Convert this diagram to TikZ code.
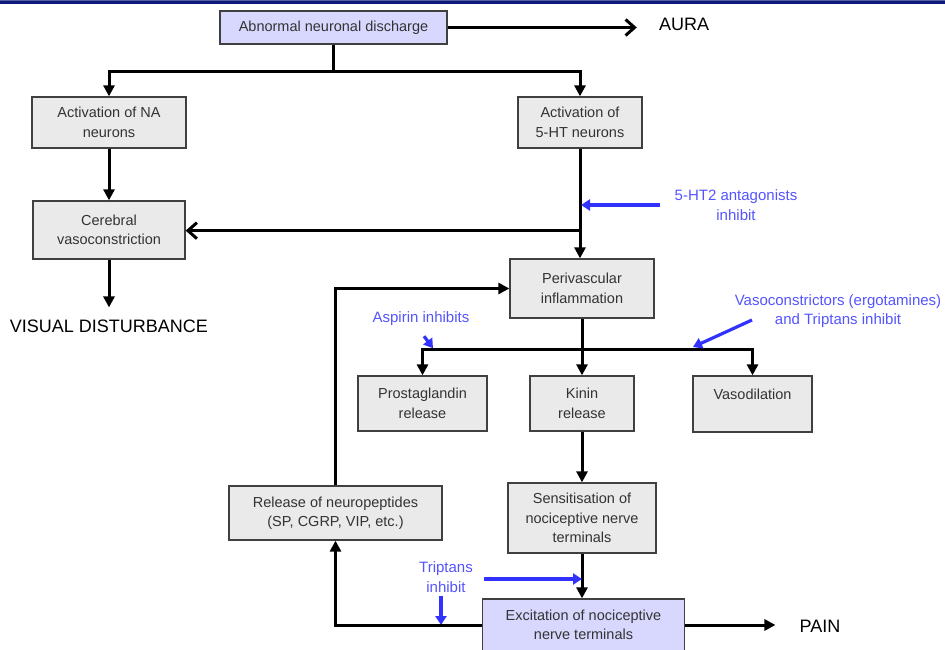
\documentclass[tikz,border=0pt]{standalone}
\usepackage{fontspec}
\setmainfont{Liberation Sans}
\usetikzlibrary{arrows.meta}

\definecolor{boxgray}{RGB}{234,234,234}
\definecolor{lavender}{RGB}{216,216,255}
\definecolor{inhblue}{RGB}{50,50,255}
\definecolor{notetext}{RGB}{84,84,255}
\definecolor{navy}{RGB}{14,26,122}

\begin{document}
\begin{tikzpicture}[x=1pt, y=-1pt,
  box/.style={draw=black!75, line width=1.3pt, fill=boxgray, text=black!80, inner sep=0pt, align=center, font=\fontsize{14.5}{19.5}\selectfont},
  arr/.style={line width=3pt, -{Triangle[length=11pt,width=11pt]}},
  barb/.style={line width=3pt, -{Straight Barb[length=9pt,width=16pt]}},
  inh/.style={inhblue, line width=3.2pt, -{Triangle[length=9pt,width=11pt]}},
  note/.style={text=notetext, align=center, inner sep=0pt, font=\fontsize{15}{19.5}\selectfont},
  outcome/.style={inner sep=0pt, font=\fontsize{18}{22}\selectfont}]

\useasboundingbox (0,0) rectangle (945,650);
\fill[navy] (0,0) rectangle (945,4);
\fill[navy!70!white] (0,0) rectangle (945,1.5);

\node[box, fill=lavender, minimum width=227pt, minimum height=33pt] (abn) at (333.5,27.5) {Abnormal neuronal discharge};
\node[box, minimum width=154pt, minimum height=51pt] (na) at (109,122.5) {Activation of NA\\neurons};
\node[box, minimum width=124pt, minimum height=51pt] (ht) at (580,122.5) {Activation of\\5-HT neurons};
\node[box, minimum width=152pt, minimum height=58pt] (cer) at (109,230) {Cerebral\\vasoconstriction};
\node[box, minimum width=144pt, minimum height=59pt] (peri) at (582,288.5) {Perivascular\\inflammation};
\node[box, minimum width=129pt, minimum height=55pt] (pros) at (422.5,403.5) {Prostaglandin\\release};
\node[box, minimum width=104pt, minimum height=55pt] (kin) at (582,403.5) {Kinin\\release};
\node[box, minimum width=119pt, minimum height=56pt] (vaso) at (752.5,404) {Vasodilation\\~};
\node[box, minimum width=148pt, minimum height=70pt] (sens) at (582,518) {Sensitisation of\\nociceptive nerve\\terminals};
\node[box, fill=lavender, minimum width=202pt, minimum height=52pt] (exc) at (583.5,625) {Excitation of nociceptive\\nerve terminals};
\node[box, minimum width=213pt, minimum height=54pt] (rel) at (335.5,513) {Release of neuropeptides\\(SP, CGRP, VIP, etc.)};

\node[outcome] (aura) at (684,24) {AURA};
\node[outcome] (vis) at (109,326) {VISUAL DISTURBANCE};
\node[outcome] (pain) at (820,626) {PAIN};

\node[note] (ant) at (736,205) {5-HT2 antagonists\\inhibit};
\node[note] (asp) at (421,319) {Aspirin inhibits};
\node[note] (vc) at (838,311) {Vasoconstrictors (ergotamines)\\and Triptans inhibit};
\node[note] (trip) at (446,577) {Triptans\\inhibit};

\draw[barb, shorten >=22pt] (abn.east) -- (abn.east -| aura.west);
\path (abn.south) ++(0,27) coordinate (split);
\draw[line width=3pt] (abn.south) -- (split);
\draw[arr] (split) -| (na.north);
\draw[arr] (split) -| (ht.north);

\draw[arr] (na) -- (cer);
\draw[arr, shorten >=12pt] (cer.south) -- (cer.south |- vis.north);

\draw[arr] (ht.south) -- (ht.south |- peri.north);
\path (ht.south) ++(0,82) coordinate (jc);
\draw[barb] (jc) -- (jc -| cer.east);
\draw[inh, shorten <=15pt, shorten >=1pt] (ant.west) -- (ant.west -| ht.south);

\draw[arr] (peri.south) -- (peri.south |- kin.north);
\path (peri.south) ++(0,31) coordinate (br);
\draw[arr] (br) -| (pros.north);
\draw[arr] (br) -| (vaso.north);
\draw[inh] ([shift={(3,10)}]asp.south) -- ([shift={(12,22)}]asp.south);
\draw[inh] ([shift={(-86,9)}]vc.center) -- ([shift={(-145,36)}]vc.center);

\draw[arr] (kin) -- (sens);
\draw[arr] (sens.south) -- (sens.south |- exc.north);
\draw[inh] ([shift={(11,2)}]trip.east) -- ([yshift=-2pt]trip.east -| sens.south);
\draw[inh] ([shift={(-5,4)}]trip.south) -- ([xshift=-5pt]trip.south |- exc.west);

\draw[arr, shorten >=24pt] (exc.east) -- (exc.east -| pain.west);
\draw[arr] (exc.west) -| (rel.south);
\draw[arr] (rel.north) |- (peri.west);

\end{tikzpicture}
\end{document}
